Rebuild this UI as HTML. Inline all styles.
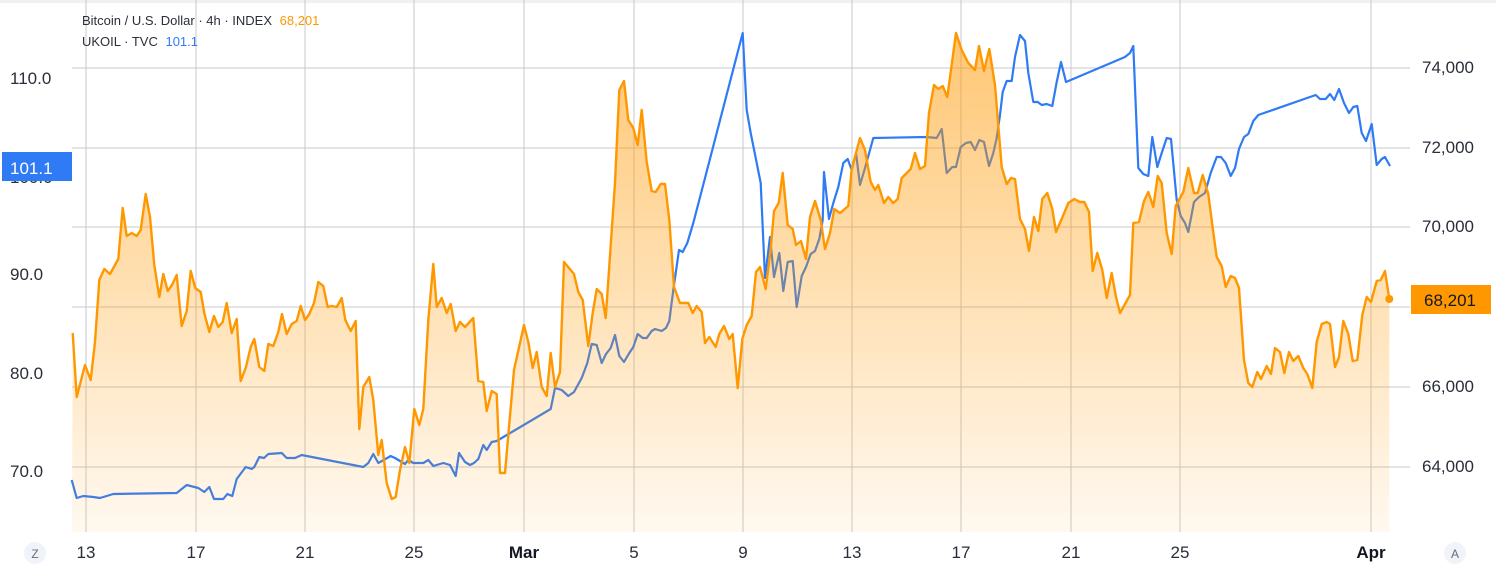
<!DOCTYPE html>
<html><head><meta charset="utf-8"><style>
html,body{margin:0;padding:0;background:#fff;}
body{width:1496px;height:574px;overflow:hidden;font-family:"Liberation Sans",sans-serif;}
</style></head><body>
<svg width="1496" height="574" viewBox="0 0 1496 574" xmlns="http://www.w3.org/2000/svg" font-family="Liberation Sans, sans-serif">
<defs>
<linearGradient id="g" x1="0" y1="30" x2="0" y2="532" gradientUnits="userSpaceOnUse">
<stop offset="0" stop-color="#ff9800" stop-opacity="0.55"/>
<stop offset="1" stop-color="#ff9800" stop-opacity="0.06"/>
</linearGradient>
</defs>
<rect x="0" y="0" width="1496" height="3" fill="#eef0f3"/>
<g stroke="#c9c9cc" stroke-width="1">
<line x1="72" y1="68" x2="1410" y2="68"/><line x1="72" y1="148" x2="1410" y2="148"/>
<line x1="72" y1="227" x2="1410" y2="227"/><line x1="72" y1="307" x2="1410" y2="307"/>
<line x1="72" y1="387" x2="1410" y2="387"/><line x1="72" y1="467" x2="1410" y2="467"/>
<line x1="86" y1="0" x2="86" y2="532"/><line x1="196" y1="0" x2="196" y2="532"/>
<line x1="305" y1="0" x2="305" y2="532"/><line x1="414" y1="0" x2="414" y2="532"/>
<line x1="524" y1="0" x2="524" y2="532"/><line x1="634" y1="0" x2="634" y2="532"/>
<line x1="743" y1="0" x2="743" y2="532"/><line x1="852" y1="0" x2="852" y2="532"/>
<line x1="961" y1="0" x2="961" y2="532"/><line x1="1071" y1="0" x2="1071" y2="532"/>
<line x1="1180" y1="0" x2="1180" y2="532"/><line x1="1371" y1="0" x2="1371" y2="532"/>
</g>
<polyline fill="none" stroke="#2f7bf5" stroke-width="2.2" stroke-linejoin="round" points="71.7,480 76.7,498 83.3,496 93.3,497 100,498 113.3,494 176.7,493 186.7,485 198.3,488 204.3,492 209.3,487 214,499 223.3,499 227.3,494 232.3,496 236.7,479 245.7,467 251.7,469 254.3,467 259.3,457 264,458 268.3,454 281.7,453 286.7,458 295,458 301.7,455 306.7,456 363.3,467 368.3,463 373.3,454 378.3,463 390.7,456 395,458 405,464 408.3,460 413.3,463 423.3,463 428.3,460 433.3,466 443.3,463 450,465 455.7,476 459,453 465,462 470,465 474,463 478.3,459 483.3,445 486.7,450 491.7,442 496.7,441 550.7,409 555,388 561.7,390 568.3,396 574,392 581.7,378 587.3,363 591.7,344 596.7,345 601.7,363 606,354 610.7,348 615,335 619.3,356 624,362 629.3,353 633.3,347 637.7,334 642.7,338 646.7,338 651.7,331 655,329 661.7,331 666,328 669.3,321 673.3,290 679,250 682.7,252 687.3,243 693.3,223 742.7,33 746.7,110 750.7,133 756.7,163 760.7,183 765,278 770,237 774,277 779.3,253 783.3,291 787.7,262 792.7,261 796.7,307 801.7,276 806,267 810.7,254 815,251 819.3,239 822.7,220 824,172 829,219 833.3,203 838.3,187 843.3,163 847.7,159 851.7,170 856,153 860,185 865,168 873.3,138 926.7,137 936.7,138 941.7,129 946.7,173 952.3,167 956,167 960.7,147 966,143 970.7,142 975,150 979.3,140 984,142 989,166 993.3,153 996.7,138 1000,115 1002.7,92 1006.7,81 1011.7,81 1015,57 1020,35 1025,41 1028.3,73 1033.3,102 1037.7,102 1041.7,105 1046.7,104 1052.3,106 1056.7,82 1061,62 1066,82 1125,57 1130,53 1133.3,46 1138.3,168 1143.3,174 1148.3,176 1152.3,137 1157.3,167 1161.7,153 1166.7,138 1171,139 1176.7,200 1180.7,216 1185,223 1188.3,232 1194,202 1199,197 1205,193 1210.7,173 1216.7,157 1221,157 1225.7,163 1230.7,176 1235,168 1239,149 1244,137 1248.3,134 1253.3,121 1258.3,115 1315.7,95 1320,99 1325.7,99 1330,94 1334.3,100 1339,89 1344,103 1349,113 1353.3,107 1357.3,106 1361.7,133 1366,141 1371.7,124 1376.7,165 1381.7,159 1385,157 1390,166"/>
<polygon id="fill" fill="url(#g)" stroke="none" points="72,532 72.7,333 76.7,397 85,365 90.7,380 95,342 99.3,280 104.3,269 110,274 118.3,259 122.7,208 126.7,236 131.7,233 136.7,236 140.7,230 145.7,194 150,217 154.3,265 159.3,297 163.3,274 167.7,291 172,285 176.7,275 181.7,326 186.7,311 190.7,271 195.3,288 200.7,292 204.3,313 209.3,332 214,316 218.3,327 222.7,322 226.7,303 231.7,333 236.7,319 240.7,381 245.7,368 250.7,347 254.3,339 259.3,367 264.3,371 268.3,344 273.3,346 278.3,332 282,314 286.7,334 291.7,324 296.7,321 300.7,306 305,320 309.3,314 314,303 318.3,282 323.3,286 327.7,307 331.7,306 336.7,307 341.7,298 345.3,320 350.7,331 355.7,321 359.3,429 363.3,387 369.3,377 373.3,400 378.3,455 381.7,440 386.7,483 391.7,499 395.7,497 400,470 405,447 409.3,463 414.3,409 419.3,425 423.3,409 428.3,320 433.3,264 436.7,307 441.7,298 446.7,313 450.7,304 455.7,331 460,322 465,327 473.3,318 478.3,381 483.3,382 486.7,411 491.7,391 496.7,394 500,473 505,473 514,370 524,325 528.3,342 532.7,368 536.7,352 541.7,387 546.7,396 550.7,353 555,387 560,372 564,262 574,274 578.3,292 582.7,300 588.3,346 592.7,313 596.7,289 601.7,294 605.7,318 615,183 619.3,90 624,81 628.3,120 633.3,128 637.7,145 641.7,110 646.7,162 651.7,191 655.7,192 660.7,184 665,184 669.3,220 674,287 680,303 688.3,303 692.7,313 696.7,306 701.7,312 705,343 709.3,337 715.7,347 719.3,334 724,326 729.3,339 732.7,334 737.7,388 742.3,339 746.7,325 751.7,316 756,272 760,267 765.7,289 770.7,249 774,211 778.7,203 782.7,173 787.7,225 792.7,229 796,245 801,241 806,259 810,217 815,201 820.7,220 825,249 830,233 834.3,209 840,213 848.3,206 851.7,169 860,138 865,150 870.7,182 875,190 878.3,185 884,203 888.3,197 893.3,203 897.7,199 901.7,178 910.7,169 915,153 920,169 925,166 929,113 934,85 938.3,89 942.7,86 947.3,97 956,33 961.7,50 968.3,63 975,70 979,46 984,71 989.3,49 995,85 1001.7,167 1006.7,184 1011,178 1015,179 1020,219 1025,229 1029,251 1034,217 1038.3,231 1042.3,199 1047.3,193 1052.3,209 1056,232 1061.7,219 1068.3,203 1074.3,199 1080,202 1084.3,202 1089,212 1092.7,271 1097.3,253 1102.3,270 1106.7,298 1111.7,273 1116,297 1120,313 1125,304 1130,295 1133.3,223 1139,222 1144,201 1148.3,192 1153.3,207 1157.7,176 1161.7,183 1166.7,233 1171.7,254 1175.7,206 1183.3,192 1188.3,168 1194,193 1197.7,193 1202.7,175 1208.3,194 1212.7,228 1216.7,257 1221.7,266 1225.7,287 1230.7,276 1235,278 1239,288 1244,360 1248.3,383 1252.3,387 1257.3,372 1261,379 1266.7,366 1271,374 1275,348 1280,352 1284.3,373 1289,352 1293.3,361 1298.3,356 1303.3,368 1307.3,374 1312.3,388 1316.7,342 1321.7,324 1326.7,322 1330,324 1335,367 1339,357 1343.3,321 1348.3,334 1352.7,361 1357.3,360 1362.3,315 1366.7,297 1371,302 1376.7,281 1380.7,280 1385,271 1389.3,299 1389.3,532"/>
<polyline fill="none" stroke="#ff9800" stroke-width="2.4" stroke-linejoin="round" points="72.7,333 76.7,397 85,365 90.7,380 95,342 99.3,280 104.3,269 110,274 118.3,259 122.7,208 126.7,236 131.7,233 136.7,236 140.7,230 145.7,194 150,217 154.3,265 159.3,297 163.3,274 167.7,291 172,285 176.7,275 181.7,326 186.7,311 190.7,271 195.3,288 200.7,292 204.3,313 209.3,332 214,316 218.3,327 222.7,322 226.7,303 231.7,333 236.7,319 240.7,381 245.7,368 250.7,347 254.3,339 259.3,367 264.3,371 268.3,344 273.3,346 278.3,332 282,314 286.7,334 291.7,324 296.7,321 300.7,306 305,320 309.3,314 314,303 318.3,282 323.3,286 327.7,307 331.7,306 336.7,307 341.7,298 345.3,320 350.7,331 355.7,321 359.3,429 363.3,387 369.3,377 373.3,400 378.3,455 381.7,440 386.7,483 391.7,499 395.7,497 400,470 405,447 409.3,463 414.3,409 419.3,425 423.3,409 428.3,320 433.3,264 436.7,307 441.7,298 446.7,313 450.7,304 455.7,331 460,322 465,327 473.3,318 478.3,381 483.3,382 486.7,411 491.7,391 496.7,394 500,473 505,473 514,370 524,325 528.3,342 532.7,368 536.7,352 541.7,387 546.7,396 550.7,353 555,387 560,372 564,262 574,274 578.3,292 582.7,300 588.3,346 592.7,313 596.7,289 601.7,294 605.7,318 615,183 619.3,90 624,81 628.3,120 633.3,128 637.7,145 641.7,110 646.7,162 651.7,191 655.7,192 660.7,184 665,184 669.3,220 674,287 680,303 688.3,303 692.7,313 696.7,306 701.7,312 705,343 709.3,337 715.7,347 719.3,334 724,326 729.3,339 732.7,334 737.7,388 742.3,339 746.7,325 751.7,316 756,272 760,267 765.7,289 770.7,249 774,211 778.7,203 782.7,173 787.7,225 792.7,229 796,245 801,241 806,259 810,217 815,201 820.7,220 825,249 830,233 834.3,209 840,213 848.3,206 851.7,169 860,138 865,150 870.7,182 875,190 878.3,185 884,203 888.3,197 893.3,203 897.7,199 901.7,178 910.7,169 915,153 920,169 925,166 929,113 934,85 938.3,89 942.7,86 947.3,97 956,33 961.7,50 968.3,63 975,70 979,46 984,71 989.3,49 995,85 1001.7,167 1006.7,184 1011,178 1015,179 1020,219 1025,229 1029,251 1034,217 1038.3,231 1042.3,199 1047.3,193 1052.3,209 1056,232 1061.7,219 1068.3,203 1074.3,199 1080,202 1084.3,202 1089,212 1092.7,271 1097.3,253 1102.3,270 1106.7,298 1111.7,273 1116,297 1120,313 1125,304 1130,295 1133.3,223 1139,222 1144,201 1148.3,192 1153.3,207 1157.7,176 1161.7,183 1166.7,233 1171.7,254 1175.7,206 1183.3,192 1188.3,168 1194,193 1197.7,193 1202.7,175 1208.3,194 1212.7,228 1216.7,257 1221.7,266 1225.7,287 1230.7,276 1235,278 1239,288 1244,360 1248.3,383 1252.3,387 1257.3,372 1261,379 1266.7,366 1271,374 1275,348 1280,352 1284.3,373 1289,352 1293.3,361 1298.3,356 1303.3,368 1307.3,374 1312.3,388 1316.7,342 1321.7,324 1326.7,322 1330,324 1335,367 1339,357 1343.3,321 1348.3,334 1352.7,361 1357.3,360 1362.3,315 1366.7,297 1371,302 1376.7,281 1380.7,280 1385,271 1389.3,299"/>
<circle cx="1389.3" cy="299" r="4" fill="#ff9800"/>
<g font-size="17" fill="#2a2e39">
<text x="10" y="84">110.0</text>
<text x="10" y="183">100.0</text>
<text x="10" y="280">90.0</text>
<text x="10" y="379">80.0</text>
<text x="10" y="477">70.0</text>
<text x="1422" y="73">74,000</text>
<text x="1422" y="153">72,000</text>
<text x="1422" y="232">70,000</text>
<text x="1422" y="392">66,000</text>
<text x="1422" y="472">64,000</text>
</g>
<rect x="2" y="152" width="70" height="29" fill="#2f7bf5"/>
<text x="10" y="174" font-size="17" fill="#fff">101.1</text>
<rect x="1411" y="285" width="80" height="29" fill="#ff9800"/>
<text x="1424" y="306" font-size="17" fill="#131722">68,201</text>
<g font-size="17" fill="#2a2e39" text-anchor="middle">
<text x="86" y="558">13</text><text x="196" y="558">17</text><text x="305" y="558">21</text>
<text x="414" y="558">25</text><text x="524" y="558" font-weight="bold" fill="#131722">Mar</text>
<text x="634" y="558">5</text><text x="743" y="558">9</text><text x="852" y="558">13</text>
<text x="961" y="558">17</text><text x="1071" y="558">21</text><text x="1180" y="558">25</text>
<text x="1371" y="558" font-weight="bold" fill="#131722">Apr</text>
</g>
<circle cx="35" cy="553" r="11" fill="#f0f3fa"/><text x="35" y="558" font-size="12" fill="#6a6d78" text-anchor="middle">Z</text>
<circle cx="1455" cy="553" r="11" fill="#f0f3fa"/><text x="1455" y="558" font-size="12" fill="#6a6d78" text-anchor="middle">A</text>
<g font-size="13">
<text x="82" y="25" fill="#2a2e39">Bitcoin / U.S. Dollar · 4h · INDEX <tspan fill="#ff9800" dx="4">68,201</tspan></text>
<text x="82" y="46" fill="#2a2e39">UKOIL · TVC <tspan fill="#2f7bf5" dx="4">101.1</tspan></text>
</g>
</svg>
</body></html>
